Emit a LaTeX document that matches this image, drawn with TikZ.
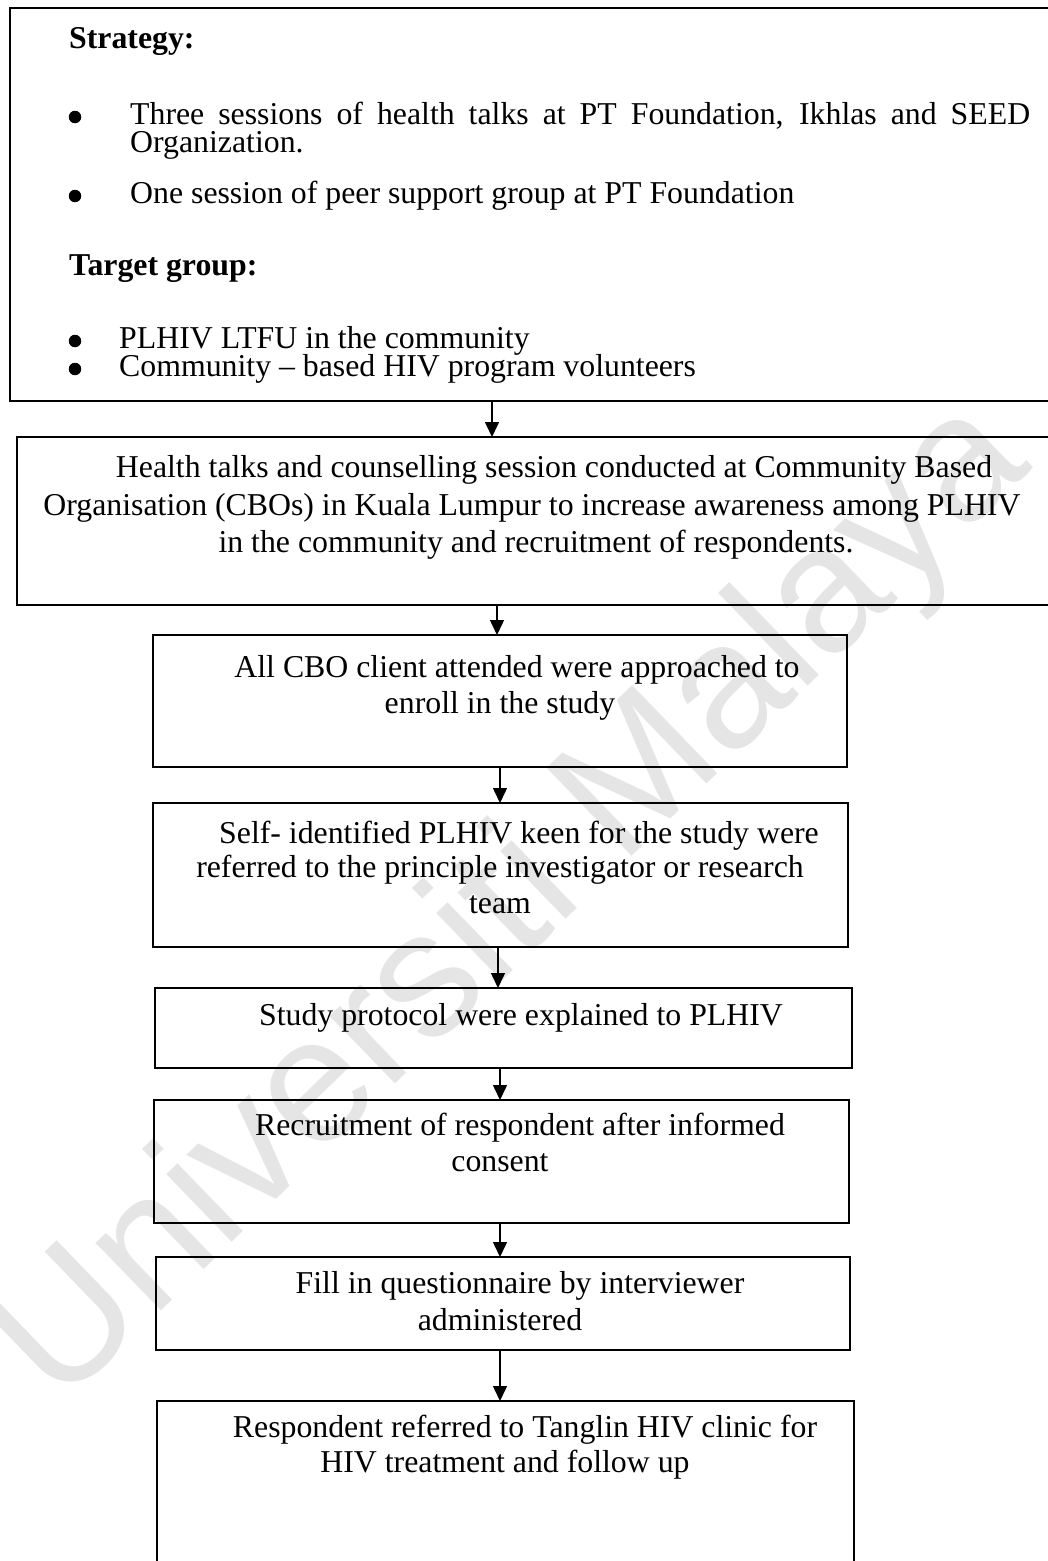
\documentclass[tikz,border=0pt]{standalone}
\usepackage{fontspec}
\setmainfont{Liberation Serif}
\newfontfamily\wmfamily{Liberation Sans}
\usetikzlibrary{arrows.meta}
\newcommand{\bodyfont}{\fontsize{31.8}{37}\selectfont}
\begin{document}
\begin{tikzpicture}[x=1pt,y=-1pt]
\tikzset{
  box/.style={draw, line width=1.8pt, inner sep=0pt, outer sep=0pt, anchor=north west},
  txt/.style={anchor=base, inner sep=0pt, font=\bodyfont},
  ltxt/.style={anchor=base west, inner sep=0pt, font=\bodyfont},
  bul/.style={circle, fill=black, inner sep=0pt, minimum size=12.5pt},
  arr/.style={line width=1.5pt, -{Triangle[width=14pt,length=15pt]}},
}
\useasboundingbox (0,0) rectangle (1048,1561);
\clip (0,0) rectangle (1048,1561);

% faint watermark behind everything
\node[rotate=44, text=black!10, font={\wmfamily\fontsize{178}{178}\selectfont}] (wm) at (515,905) {Universiti Malaya};

% boxes
\node[box, minimum width=1050pt, minimum height=393pt] (b1) at (10,8) {};
\node[box, minimum width=1043pt, minimum height=168pt] (b2) at (17,437) {};
\node[box, minimum width=694pt, minimum height=132pt] (b3) at (153,635) {};
\node[box, minimum width=695pt, minimum height=144pt] (b4) at (153,803) {};
\node[box, minimum width=697pt, minimum height=80pt] (b5) at (155,988) {};
\node[box, minimum width=695pt, minimum height=123pt] (b6) at (154,1100) {};
\node[box, minimum width=694pt, minimum height=93pt] (b7) at (156,1257) {};
\node[box, minimum width=697pt, minimum height=170pt] (b8) at (157,1401) {};

% strategy and target group
\node[ltxt, font=\bodyfont\bfseries] (s0) at (69,48) {Strategy:};
\node[bul] (s1b) at (75,117) {};
\node[ltxt] (s1) at (130,124) {\makebox[900pt][s]{Three sessions of health talks at PT Foundation, Ikhlas and SEED}};
\node[ltxt] (s1c) at (130,152) {Organization.};
\node[bul] (s2b) at (75,196) {};
\node[ltxt] (s2) at (130,203) {One session of peer support group at PT Foundation};
\node[ltxt, font=\bodyfont\bfseries] (g0) at (69,275) {Target group:};
\node[bul] (g1b) at (75,341) {};
\node[ltxt] (g1) at (119,348) {PLHIV LTFU in the community};
\node[bul] (g2b) at (75,369) {};
\node[ltxt] (g2) at (119,376) {Community – based HIV program volunteers};

% flow steps
\node[txt] (t2a) at (554,477) {Health talks and counselling session conducted at Community Based};
\node[txt] (t2b) at (532,515) {Organisation (CBOs) in Kuala Lumpur to increase awareness among PLHIV};
\node[txt] (t2c) at (536,552) {in the community and recruitment of respondents.};

\node[txt] (t3a) at (517,677) {All CBO client attended were approached to};
\node[txt] (t3b) at (500,713) {enroll in the study};

\node[txt] (t4a) at (519,843) {Self- identified PLHIV keen for the study were};
\node[txt] (t4b) at (500,877) {referred to the principle investigator or research};
\node[txt] (t4c) at (500,913) {team};

\node[txt] (t5a) at (521,1025) {Study protocol were explained to PLHIV};

\node[txt] (t6a) at (520,1135) {Recruitment of respondent after informed};
\node[txt] (t6b) at (500,1171) {consent};

\node[txt] (t7a) at (520,1293) {Fill in questionnaire by interviewer};
\node[txt] (t7b) at (500,1330) {administered};

\node[txt] (t8a) at (525,1437) {Respondent referred to Tanglin HIV clinic for};
\node[txt] (t8b) at (505,1472) {HIV treatment and follow up};

% connectors
\coordinate (ax1) at (492,0);
\coordinate (ax2) at (497,0);
\coordinate (ax3) at (500,0);
\coordinate (ax4) at (498,0);
\coordinate (ax5) at (500,0);
\coordinate (ax6) at (500,0);
\coordinate (ax7) at (500,0);
\draw[arr] (b1.south -| ax1) -- (b2.north -| ax1);
\draw[arr] (b2.south -| ax2) -- (b3.north -| ax2);
\draw[arr] (b3.south -| ax3) -- (b4.north -| ax3);
\draw[arr] (b4.south -| ax4) -- (b5.north -| ax4);
\draw[arr] (b5.south -| ax5) -- (b6.north -| ax5);
\draw[arr] (b6.south -| ax6) -- (b7.north -| ax6);
\draw[arr] (b7.south -| ax7) -- (b8.north -| ax7);
\end{tikzpicture}
\end{document}
